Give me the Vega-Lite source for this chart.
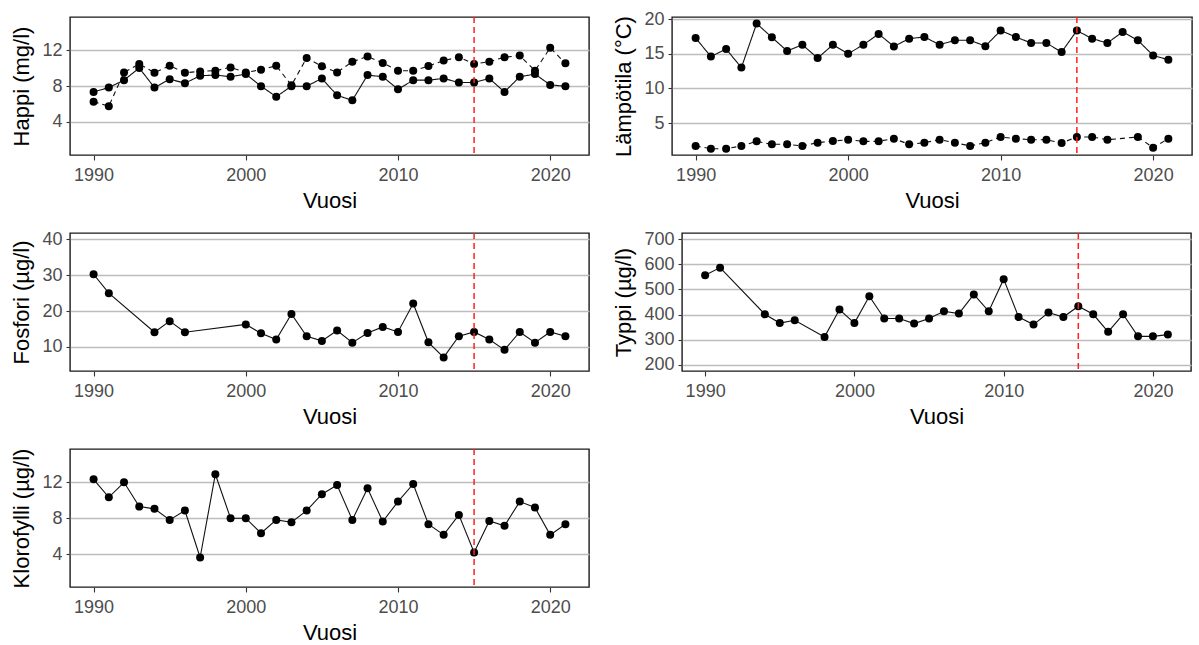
{
  "$schema": "https://vega.github.io/schema/vega-lite/v6.json",
  "background": "white",
  "padding": {"left": 10, "top": 9, "right": 0, "bottom": 0},
  "columns": 2,
  "align": {"row": "all", "column": "none"},
  "spacing": {"row": 17, "column": 22},
  "datasets": {
    "happi": [
      {"Vuosi": 1990, "sarja": "1", "arvo": 7.36}, {"Vuosi": 1991, "sarja": "1", "arvo": 7.85}, {"Vuosi": 1992, "sarja": "1", "arvo": 8.68}, {"Vuosi": 1993, "sarja": "1", "arvo": 10.04},
      {"Vuosi": 1994, "sarja": "1", "arvo": 7.85}, {"Vuosi": 1995, "sarja": "1", "arvo": 8.79}, {"Vuosi": 1996, "sarja": "1", "arvo": 8.34}, {"Vuosi": 1997, "sarja": "1", "arvo": 9.17},
      {"Vuosi": 1998, "sarja": "1", "arvo": 9.25}, {"Vuosi": 1999, "sarja": "1", "arvo": 9.06}, {"Vuosi": 2000, "sarja": "1", "arvo": 9.36}, {"Vuosi": 2001, "sarja": "1", "arvo": 8.0},
      {"Vuosi": 2002, "sarja": "1", "arvo": 6.83}, {"Vuosi": 2003, "sarja": "1", "arvo": 8.0}, {"Vuosi": 2004, "sarja": "1", "arvo": 8.0}, {"Vuosi": 2005, "sarja": "1", "arvo": 8.87},
      {"Vuosi": 2006, "sarja": "1", "arvo": 6.98}, {"Vuosi": 2007, "sarja": "1", "arvo": 6.42}, {"Vuosi": 2008, "sarja": "1", "arvo": 9.25}, {"Vuosi": 2009, "sarja": "1", "arvo": 9.06},
      {"Vuosi": 2010, "sarja": "1", "arvo": 7.66}, {"Vuosi": 2011, "sarja": "1", "arvo": 8.68}, {"Vuosi": 2012, "sarja": "1", "arvo": 8.68}, {"Vuosi": 2013, "sarja": "1", "arvo": 8.87},
      {"Vuosi": 2014, "sarja": "1", "arvo": 8.42}, {"Vuosi": 2015, "sarja": "1", "arvo": 8.42}, {"Vuosi": 2016, "sarja": "1", "arvo": 8.87}, {"Vuosi": 2017, "sarja": "1", "arvo": 7.36},
      {"Vuosi": 2018, "sarja": "1", "arvo": 9.06}, {"Vuosi": 2019, "sarja": "1", "arvo": 9.36}, {"Vuosi": 2020, "sarja": "1", "arvo": 8.15}, {"Vuosi": 2021, "sarja": "1", "arvo": 8.0},
      {"Vuosi": 1990, "sarja": "2", "arvo": 6.26}, {"Vuosi": 1991, "sarja": "2", "arvo": 5.77}, {"Vuosi": 1992, "sarja": "2", "arvo": 9.55}, {"Vuosi": 1993, "sarja": "2", "arvo": 10.5},
      {"Vuosi": 1994, "sarja": "2", "arvo": 9.51}, {"Vuosi": 1995, "sarja": "2", "arvo": 10.3}, {"Vuosi": 1996, "sarja": "2", "arvo": 9.51}, {"Vuosi": 1997, "sarja": "2", "arvo": 9.66},
      {"Vuosi": 1998, "sarja": "2", "arvo": 9.74}, {"Vuosi": 1999, "sarja": "2", "arvo": 10.11}, {"Vuosi": 2000, "sarja": "2", "arvo": 9.55}, {"Vuosi": 2001, "sarja": "2", "arvo": 9.85},
      {"Vuosi": 2002, "sarja": "2", "arvo": 10.3}, {"Vuosi": 2003, "sarja": "2", "arvo": 8.1}, {"Vuosi": 2004, "sarja": "2", "arvo": 11.17}, {"Vuosi": 2005, "sarja": "2", "arvo": 10.23},
      {"Vuosi": 2006, "sarja": "2", "arvo": 9.55}, {"Vuosi": 2007, "sarja": "2", "arvo": 10.75}, {"Vuosi": 2008, "sarja": "2", "arvo": 11.32}, {"Vuosi": 2009, "sarja": "2", "arvo": 10.6},
      {"Vuosi": 2010, "sarja": "2", "arvo": 9.74}, {"Vuosi": 2011, "sarja": "2", "arvo": 9.74}, {"Vuosi": 2012, "sarja": "2", "arvo": 10.26}, {"Vuosi": 2013, "sarja": "2", "arvo": 10.87},
      {"Vuosi": 2014, "sarja": "2", "arvo": 11.25}, {"Vuosi": 2015, "sarja": "2", "arvo": 10.5}, {"Vuosi": 2016, "sarja": "2", "arvo": 10.75}, {"Vuosi": 2017, "sarja": "2", "arvo": 11.25},
      {"Vuosi": 2018, "sarja": "2", "arvo": 11.43}, {"Vuosi": 2019, "sarja": "2", "arvo": 9.74}, {"Vuosi": 2020, "sarja": "2", "arvo": 12.3}, {"Vuosi": 2021, "sarja": "2", "arvo": 10.57}
    ],
    "lampotila": [
      {"Vuosi": 1990, "sarja": "1", "arvo": 17.27}, {"Vuosi": 1991, "sarja": "1", "arvo": 14.6}, {"Vuosi": 1992, "sarja": "1", "arvo": 15.68}, {"Vuosi": 1993, "sarja": "1", "arvo": 13.0},
      {"Vuosi": 1994, "sarja": "1", "arvo": 19.35}, {"Vuosi": 1995, "sarja": "1", "arvo": 17.37}, {"Vuosi": 1996, "sarja": "1", "arvo": 15.4}, {"Vuosi": 1997, "sarja": "1", "arvo": 16.3},
      {"Vuosi": 1998, "sarja": "1", "arvo": 14.37}, {"Vuosi": 1999, "sarja": "1", "arvo": 16.3}, {"Vuosi": 2000, "sarja": "1", "arvo": 15.0}, {"Vuosi": 2001, "sarja": "1", "arvo": 16.3},
      {"Vuosi": 2002, "sarja": "1", "arvo": 17.85}, {"Vuosi": 2003, "sarja": "1", "arvo": 16.06}, {"Vuosi": 2004, "sarja": "1", "arvo": 17.18}, {"Vuosi": 2005, "sarja": "1", "arvo": 17.42},
      {"Vuosi": 2006, "sarja": "1", "arvo": 16.3}, {"Vuosi": 2007, "sarja": "1", "arvo": 16.94}, {"Vuosi": 2008, "sarja": "1", "arvo": 16.94}, {"Vuosi": 2009, "sarja": "1", "arvo": 16.1},
      {"Vuosi": 2010, "sarja": "1", "arvo": 18.34}, {"Vuosi": 2011, "sarja": "1", "arvo": 17.42}, {"Vuosi": 2012, "sarja": "1", "arvo": 16.55}, {"Vuosi": 2013, "sarja": "1", "arvo": 16.55},
      {"Vuosi": 2014, "sarja": "1", "arvo": 15.24}, {"Vuosi": 2015, "sarja": "1", "arvo": 18.34}, {"Vuosi": 2016, "sarja": "1", "arvo": 17.18}, {"Vuosi": 2017, "sarja": "1", "arvo": 16.55},
      {"Vuosi": 2018, "sarja": "1", "arvo": 18.15}, {"Vuosi": 2019, "sarja": "1", "arvo": 16.94}, {"Vuosi": 2020, "sarja": "1", "arvo": 14.76}, {"Vuosi": 2021, "sarja": "1", "arvo": 14.13},
      {"Vuosi": 1990, "sarja": "2", "arvo": 1.7}, {"Vuosi": 1991, "sarja": "2", "arvo": 1.31}, {"Vuosi": 1992, "sarja": "2", "arvo": 1.31}, {"Vuosi": 1993, "sarja": "2", "arvo": 1.7},
      {"Vuosi": 1994, "sarja": "2", "arvo": 2.37}, {"Vuosi": 1995, "sarja": "2", "arvo": 1.94}, {"Vuosi": 1996, "sarja": "2", "arvo": 1.94}, {"Vuosi": 1997, "sarja": "2", "arvo": 1.7},
      {"Vuosi": 1998, "sarja": "2", "arvo": 2.18}, {"Vuosi": 1999, "sarja": "2", "arvo": 2.42}, {"Vuosi": 2000, "sarja": "2", "arvo": 2.6}, {"Vuosi": 2001, "sarja": "2", "arvo": 2.37},
      {"Vuosi": 2002, "sarja": "2", "arvo": 2.37}, {"Vuosi": 2003, "sarja": "2", "arvo": 2.76}, {"Vuosi": 2004, "sarja": "2", "arvo": 1.94}, {"Vuosi": 2005, "sarja": "2", "arvo": 2.18},
      {"Vuosi": 2006, "sarja": "2", "arvo": 2.6}, {"Vuosi": 2007, "sarja": "2", "arvo": 2.18}, {"Vuosi": 2008, "sarja": "2", "arvo": 1.7}, {"Vuosi": 2009, "sarja": "2", "arvo": 2.18},
      {"Vuosi": 2010, "sarja": "2", "arvo": 3.0}, {"Vuosi": 2011, "sarja": "2", "arvo": 2.76}, {"Vuosi": 2012, "sarja": "2", "arvo": 2.6}, {"Vuosi": 2013, "sarja": "2", "arvo": 2.6},
      {"Vuosi": 2014, "sarja": "2", "arvo": 2.13}, {"Vuosi": 2015, "sarja": "2", "arvo": 3.0}, {"Vuosi": 2016, "sarja": "2", "arvo": 3.0}, {"Vuosi": 2017, "sarja": "2", "arvo": 2.6},
      {"Vuosi": 2019, "sarja": "2", "arvo": 3.0}, {"Vuosi": 2020, "sarja": "2", "arvo": 1.45}, {"Vuosi": 2021, "sarja": "2", "arvo": 2.76}
    ],
    "fosfori": [
      {"Vuosi": 1990, "arvo": 30.3}, {"Vuosi": 1991, "arvo": 25.0}, {"Vuosi": 1994, "arvo": 14.1}, {"Vuosi": 1995, "arvo": 17.2},
      {"Vuosi": 1996, "arvo": 14.1}, {"Vuosi": 2000, "arvo": 16.3}, {"Vuosi": 2001, "arvo": 13.8}, {"Vuosi": 2002, "arvo": 12.1},
      {"Vuosi": 2003, "arvo": 19.2}, {"Vuosi": 2004, "arvo": 13.0}, {"Vuosi": 2005, "arvo": 11.7}, {"Vuosi": 2006, "arvo": 14.6},
      {"Vuosi": 2007, "arvo": 11.2}, {"Vuosi": 2008, "arvo": 13.9}, {"Vuosi": 2009, "arvo": 15.6}, {"Vuosi": 2010, "arvo": 14.2},
      {"Vuosi": 2011, "arvo": 22.1}, {"Vuosi": 2012, "arvo": 11.3}, {"Vuosi": 2013, "arvo": 7.1}, {"Vuosi": 2014, "arvo": 13.0},
      {"Vuosi": 2015, "arvo": 14.2}, {"Vuosi": 2016, "arvo": 12.1}, {"Vuosi": 2017, "arvo": 9.2}, {"Vuosi": 2018, "arvo": 14.2},
      {"Vuosi": 2019, "arvo": 11.2}, {"Vuosi": 2020, "arvo": 14.2}, {"Vuosi": 2021, "arvo": 13.0}
    ],
    "typpi": [
      {"Vuosi": 1990, "arvo": 557}, {"Vuosi": 1991, "arvo": 587}, {"Vuosi": 1994, "arvo": 401}, {"Vuosi": 1995, "arvo": 366},
      {"Vuosi": 1996, "arvo": 377}, {"Vuosi": 1998, "arvo": 311}, {"Vuosi": 1999, "arvo": 420}, {"Vuosi": 2000, "arvo": 366},
      {"Vuosi": 2001, "arvo": 473}, {"Vuosi": 2002, "arvo": 384}, {"Vuosi": 2003, "arvo": 384}, {"Vuosi": 2004, "arvo": 364},
      {"Vuosi": 2005, "arvo": 384}, {"Vuosi": 2006, "arvo": 413}, {"Vuosi": 2007, "arvo": 404}, {"Vuosi": 2008, "arvo": 480},
      {"Vuosi": 2009, "arvo": 413}, {"Vuosi": 2010, "arvo": 541}, {"Vuosi": 2011, "arvo": 390}, {"Vuosi": 2012, "arvo": 360},
      {"Vuosi": 2013, "arvo": 408}, {"Vuosi": 2014, "arvo": 390}, {"Vuosi": 2015, "arvo": 433}, {"Vuosi": 2016, "arvo": 401},
      {"Vuosi": 2017, "arvo": 331}, {"Vuosi": 2018, "arvo": 401}, {"Vuosi": 2019, "arvo": 313}, {"Vuosi": 2020, "arvo": 313},
      {"Vuosi": 2021, "arvo": 320}
    ],
    "klorofylli": [
      {"Vuosi": 1990, "arvo": 12.33}, {"Vuosi": 1991, "arvo": 10.33}, {"Vuosi": 1992, "arvo": 12.0}, {"Vuosi": 1993, "arvo": 9.3},
      {"Vuosi": 1994, "arvo": 9.04}, {"Vuosi": 1995, "arvo": 7.81}, {"Vuosi": 1996, "arvo": 8.85}, {"Vuosi": 1997, "arvo": 3.63},
      {"Vuosi": 1998, "arvo": 12.89}, {"Vuosi": 1999, "arvo": 8.0}, {"Vuosi": 2000, "arvo": 8.0}, {"Vuosi": 2001, "arvo": 6.33},
      {"Vuosi": 2002, "arvo": 7.81}, {"Vuosi": 2003, "arvo": 7.56}, {"Vuosi": 2004, "arvo": 8.85}, {"Vuosi": 2005, "arvo": 10.67},
      {"Vuosi": 2006, "arvo": 11.7}, {"Vuosi": 2007, "arvo": 7.81}, {"Vuosi": 2008, "arvo": 11.33}, {"Vuosi": 2009, "arvo": 7.63},
      {"Vuosi": 2010, "arvo": 9.85}, {"Vuosi": 2011, "arvo": 11.81}, {"Vuosi": 2012, "arvo": 7.33}, {"Vuosi": 2013, "arvo": 6.15},
      {"Vuosi": 2014, "arvo": 8.37}, {"Vuosi": 2015, "arvo": 4.19}, {"Vuosi": 2016, "arvo": 7.7}, {"Vuosi": 2017, "arvo": 7.15},
      {"Vuosi": 2018, "arvo": 9.85}, {"Vuosi": 2019, "arvo": 9.19}, {"Vuosi": 2020, "arvo": 6.15}, {"Vuosi": 2021, "arvo": 7.33}
    ],
    "raja": [{"Vuosi": 2015}]
  },
  "concat": [
    {
      "width": 519, "height": 138,
      "layer": [
        {"data": {"name": "happi"}, "mark": {"type": "line", "color": "#111111", "strokeWidth": 1.1},
         "encoding": {
           "x": {"field": "Vuosi", "type": "quantitative", "scale": {"domain": [1988.45, 2022.55], "nice": false, "zero": false}, "axis": {"values": [1990, 2000, 2010, 2020], "format": "d", "title": "Vuosi"}},
           "y": {"field": "arvo", "type": "quantitative", "scale": {"domain": [0.3, 15.75], "nice": false, "zero": false}, "axis": {"values": [4, 8, 12], "title": "Happi (mg/l)"}},
           "strokeDash": {"field": "sarja", "type": "nominal", "scale": {"domain": ["1", "2"], "range": [[1, 0], [5, 4]]}, "legend": null}
         }},
        {"data": {"name": "happi"}, "mark": {"type": "point", "filled": true, "size": 64, "color": "#000000", "opacity": 1},
         "encoding": {
           "x": {"field": "Vuosi", "type": "quantitative", "axis": {"values": [1990, 2000, 2010, 2020], "format": "d", "title": "Vuosi"}},
           "y": {"field": "arvo", "type": "quantitative", "axis": {"values": [4, 8, 12], "title": "Happi (mg/l)"}}}},
        {"data": {"name": "raja"}, "mark": {"type": "rule", "color": "#FF2020", "strokeDash": [6, 4], "strokeWidth": 1.5},
         "encoding": {"x": {"field": "Vuosi", "type": "quantitative", "axis": {"values": [1990, 2000, 2010, 2020], "format": "d", "title": "Vuosi"}}}}
      ]
    },
    {
      "width": 520, "height": 138,
      "layer": [
        {"data": {"name": "lampotila"}, "mark": {"type": "line", "color": "#111111", "strokeWidth": 1.1},
         "encoding": {
           "x": {"field": "Vuosi", "type": "quantitative", "scale": {"domain": [1988.45, 2022.55], "nice": false, "zero": false}, "axis": {"values": [1990, 2000, 2010, 2020], "format": "d", "title": "Vuosi"}},
           "y": {"field": "arvo", "type": "quantitative", "scale": {"domain": [0.4, 20.3], "nice": false, "zero": false}, "axis": {"values": [5, 10, 15, 20], "title": "Lämpötila (°C)"}},
           "strokeDash": {"field": "sarja", "type": "nominal", "scale": {"domain": ["1", "2"], "range": [[1, 0], [5, 4]]}, "legend": null}
         }},
        {"data": {"name": "lampotila"}, "mark": {"type": "point", "filled": true, "size": 64, "color": "#000000", "opacity": 1},
         "encoding": {
           "x": {"field": "Vuosi", "type": "quantitative", "axis": {"values": [1990, 2000, 2010, 2020], "format": "d", "title": "Vuosi"}},
           "y": {"field": "arvo", "type": "quantitative", "axis": {"values": [5, 10, 15, 20], "title": "Lämpötila (°C)"}}}},
        {"data": {"name": "raja"}, "mark": {"type": "rule", "color": "#FF2020", "strokeDash": [6, 4], "strokeWidth": 1.5},
         "encoding": {"x": {"field": "Vuosi", "type": "quantitative", "axis": {"values": [1990, 2000, 2010, 2020], "format": "d", "title": "Vuosi"}}}}
      ]
    },
    {
      "width": 519, "height": 138,
      "layer": [
        {"data": {"name": "fosfori"}, "mark": {"type": "line", "color": "#111111", "strokeWidth": 1.1},
         "encoding": {
           "x": {"field": "Vuosi", "type": "quantitative", "scale": {"domain": [1988.45, 2022.55], "nice": false, "zero": false}, "axis": {"values": [1990, 2000, 2010, 2020], "format": "d", "title": "Vuosi"}},
           "y": {"field": "arvo", "type": "quantitative", "scale": {"domain": [3.3, 41.8], "nice": false, "zero": false}, "axis": {"values": [10, 20, 30, 40], "title": "Fosfori (µg/l)"}}
         }},
        {"data": {"name": "fosfori"}, "mark": {"type": "point", "filled": true, "size": 64, "color": "#000000", "opacity": 1},
         "encoding": {
           "x": {"field": "Vuosi", "type": "quantitative", "axis": {"values": [1990, 2000, 2010, 2020], "format": "d", "title": "Vuosi"}},
           "y": {"field": "arvo", "type": "quantitative", "axis": {"values": [10, 20, 30, 40], "title": "Fosfori (µg/l)"}}}},
        {"data": {"name": "raja"}, "mark": {"type": "rule", "color": "#FF2020", "strokeDash": [6, 4], "strokeWidth": 1.5},
         "encoding": {"x": {"field": "Vuosi", "type": "quantitative", "axis": {"values": [1990, 2000, 2010, 2020], "format": "d", "title": "Vuosi"}}}}
      ]
    },
    {
      "width": 509, "height": 138,
      "layer": [
        {"data": {"name": "typpi"}, "mark": {"type": "line", "color": "#111111", "strokeWidth": 1.1},
         "encoding": {
           "x": {"field": "Vuosi", "type": "quantitative", "scale": {"domain": [1988.45, 2022.55], "nice": false, "zero": false}, "axis": {"values": [1990, 2000, 2010, 2020], "format": "d", "title": "Vuosi"}},
           "y": {"field": "arvo", "type": "quantitative", "scale": {"domain": [175, 725], "nice": false, "zero": false}, "axis": {"values": [200, 300, 400, 500, 600, 700], "title": "Typpi (µg/l)"}}
         }},
        {"data": {"name": "typpi"}, "mark": {"type": "point", "filled": true, "size": 64, "color": "#000000", "opacity": 1},
         "encoding": {
           "x": {"field": "Vuosi", "type": "quantitative", "axis": {"values": [1990, 2000, 2010, 2020], "format": "d", "title": "Vuosi"}},
           "y": {"field": "arvo", "type": "quantitative", "axis": {"values": [200, 300, 400, 500, 600, 700], "title": "Typpi (µg/l)"}}}},
        {"data": {"name": "raja"}, "mark": {"type": "rule", "color": "#FF2020", "strokeDash": [6, 4], "strokeWidth": 1.5},
         "encoding": {"x": {"field": "Vuosi", "type": "quantitative", "axis": {"values": [1990, 2000, 2010, 2020], "format": "d", "title": "Vuosi"}}}}
      ]
    },
    {
      "width": 519, "height": 138,
      "layer": [
        {"data": {"name": "klorofylli"}, "mark": {"type": "line", "color": "#111111", "strokeWidth": 1.1},
         "encoding": {
           "x": {"field": "Vuosi", "type": "quantitative", "scale": {"domain": [1988.45, 2022.55], "nice": false, "zero": false}, "axis": {"values": [1990, 2000, 2010, 2020], "format": "d", "title": "Vuosi"}},
           "y": {"field": "arvo", "type": "quantitative", "scale": {"domain": [0.35, 15.7], "nice": false, "zero": false}, "axis": {"values": [4, 8, 12], "title": "Klorofylli (µg/l)"}}
         }},
        {"data": {"name": "klorofylli"}, "mark": {"type": "point", "filled": true, "size": 64, "color": "#000000", "opacity": 1},
         "encoding": {
           "x": {"field": "Vuosi", "type": "quantitative", "axis": {"values": [1990, 2000, 2010, 2020], "format": "d", "title": "Vuosi"}},
           "y": {"field": "arvo", "type": "quantitative", "axis": {"values": [4, 8, 12], "title": "Klorofylli (µg/l)"}}}},
        {"data": {"name": "raja"}, "mark": {"type": "rule", "color": "#FF2020", "strokeDash": [6, 4], "strokeWidth": 1.5},
         "encoding": {"x": {"field": "Vuosi", "type": "quantitative", "axis": {"values": [1990, 2000, 2010, 2020], "format": "d", "title": "Vuosi"}}}}
      ]
    }
  ],
  "config": {
    "font": "Liberation Sans",
    "view": {"stroke": "#1a1a1a", "strokeWidth": 1.4},
    "axis": {
      "domain": false,
      "labelFont": "Liberation Sans", "titleFont": "Liberation Sans",
      "labelFontSize": 18, "labelColor": "#4D4D4D", "labelOverlap": false,
      "titleFontSize": 22, "titleFontWeight": "normal", "titleColor": "#000000",
      "tickColor": "#333333", "tickWidth": 1.1,
      "gridColor": "#BDBDBD", "gridWidth": 1.4
    },
    "axisX": {"tickSize": 5, "labelPadding": 6, "titlePadding": 6, "grid": false},
    "axisY": {"tickSize": 4, "labelPadding": 4, "titlePadding": 8, "grid": true}
  }
}
